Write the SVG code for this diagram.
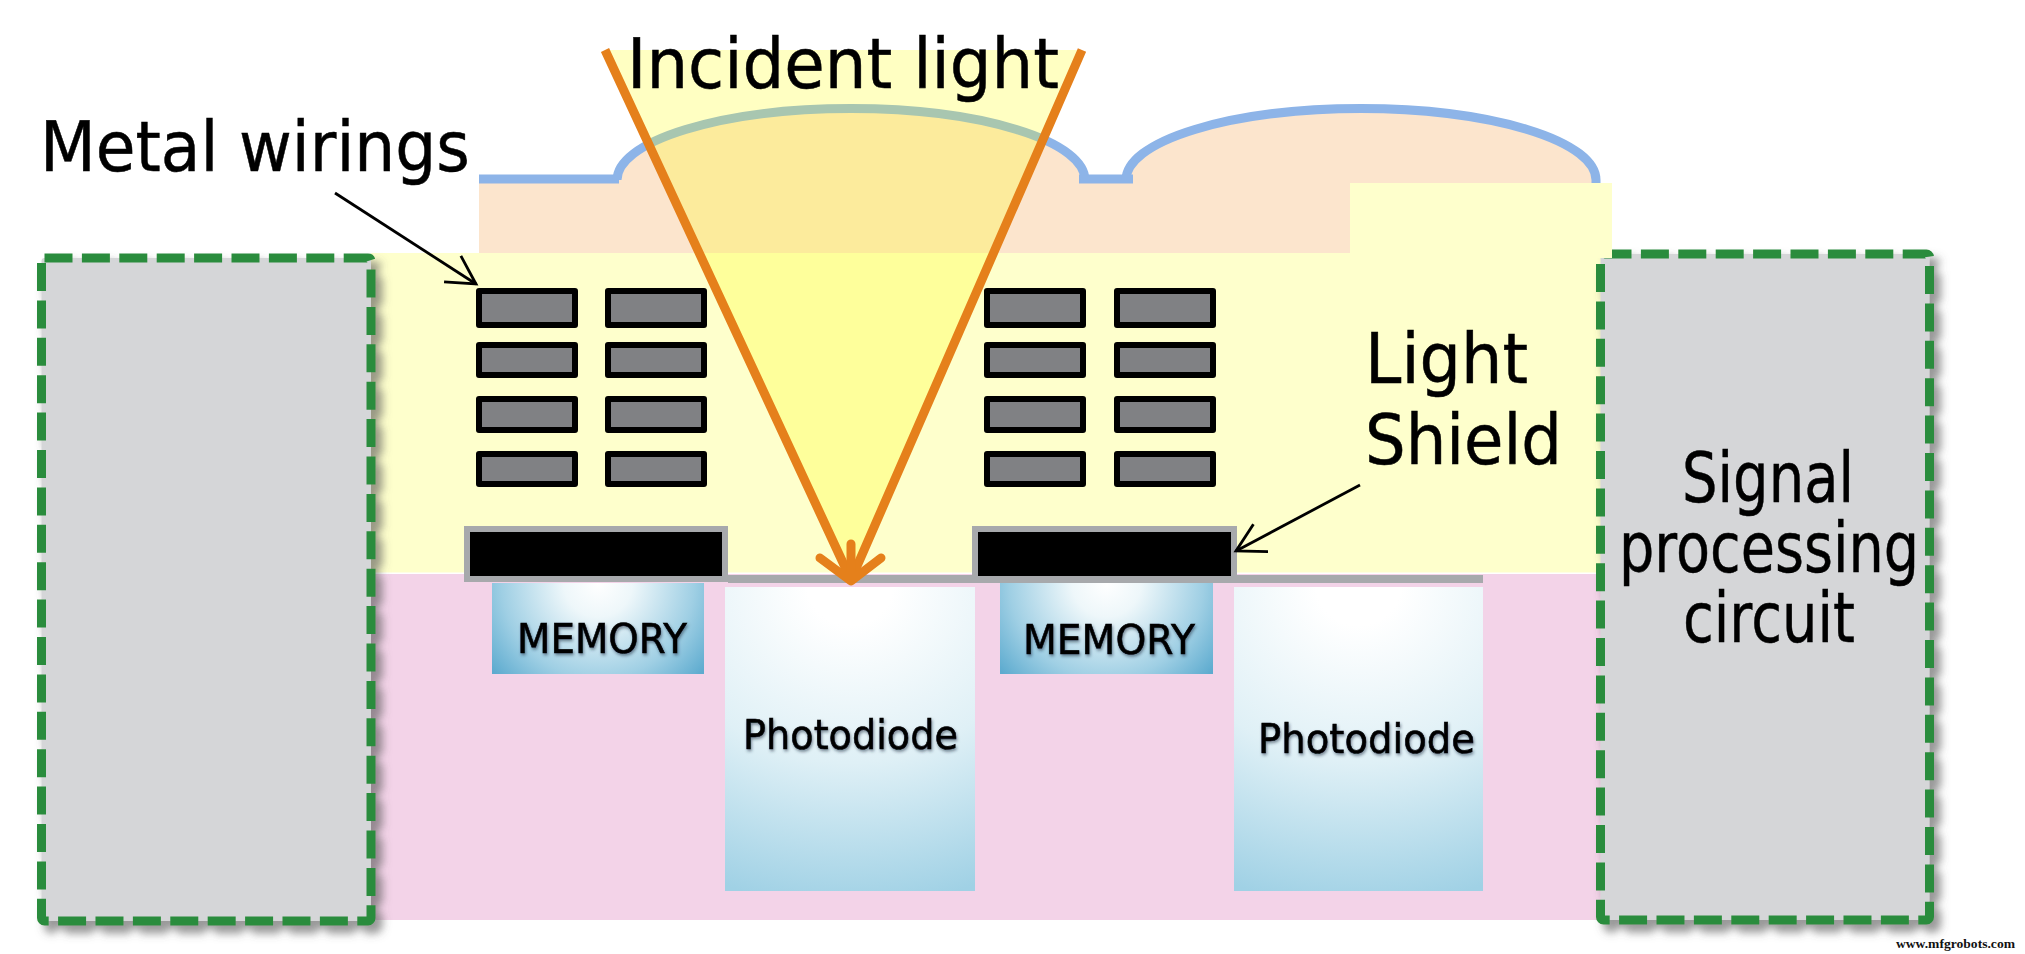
<svg xmlns="http://www.w3.org/2000/svg" width="2025" height="954" viewBox="0 0 2025 954">
<style>
.lbl{font-family:"DejaVu Sans","Liberation Sans",sans-serif;font-size:69px;fill:#000;stroke:#000;stroke-width:.5}
.sm{font-family:"DejaVu Sans","Liberation Sans",sans-serif;fill:#000;stroke:#000;stroke-width:.6;filter:url(#ts)}
.wire{fill:#808184;stroke:#000;stroke-width:6;stroke-linejoin:round}
.side{fill:#d5d6d8;stroke:#2c8c3c;stroke-width:9;stroke-dasharray:28 9.4;filter:url(#ds)}
.lens{fill:none;stroke:#8db4e8;stroke-width:9}
.ray{stroke:#e5801b;stroke-width:9;fill:none}
.lead{stroke:#000;stroke-width:2.8;fill:none;marker-end:url(#open)}
</style>
<defs>
<filter id="ds" x="-10%" y="-10%" width="125%" height="125%"><feDropShadow dx="7" dy="8" stdDeviation="4" flood-color="#555" flood-opacity=".6"/></filter>
<filter id="ts" x="-10%" y="-20%" width="120%" height="150%"><feDropShadow dx="1" dy="2" stdDeviation="1.5" flood-color="#234" flood-opacity=".55"/></filter>
<radialGradient id="mem" cx=".5" cy="0" r="1" gradientTransform="translate(.5 0) scale(.65 1.5) translate(-.5 0)"><stop offset="0" stop-color="#fff"/><stop offset=".25" stop-color="#eef7fa"/><stop offset=".7" stop-color="#9fcfe4"/><stop offset="1" stop-color="#5dabcf"/></radialGradient>
<radialGradient id="pd" cx=".5" cy="0" r="1" gradientTransform="translate(.5 0) scale(1.4 1.05) translate(-.5 0)"><stop offset="0" stop-color="#fff"/><stop offset=".12" stop-color="#fff"/><stop offset=".55" stop-color="#dff0f6"/><stop offset="1" stop-color="#a0d1e5"/></radialGradient>
<marker id="open" markerUnits="userSpaceOnUse" markerWidth="40" markerHeight="40" refX="35" refY="20" orient="auto" overflow="visible"><path d="M7 4.5L35 20L7 35.5" fill="none" stroke="#000" stroke-width="2.8"/></marker>
</defs>
<rect width="2025" height="954" fill="#fff"/>

<g id="silicon"><rect x="371" y="574" width="1235" height="346" fill="#f3d3e8"/></g>
<g id="dielectric"><rect x="371" y="253" width="1241" height="320" fill="#feffcc"/><rect x="371" y="572.5" width="1229" height="1.5" fill="#fff"/></g>
<g id="microlens">
<path d="M479 184V179H617A235 72 0 0 1 1087 179H1126A235 72 0 0 1 1596 179V253H479Z" fill="#fce5cd" stroke="none"/>
<path class="lens" d="M479 179H619M1079 179H1133"/>
<path class="lens" d="M617 180A234 71.5 0 0 1 1085 180M1126 180A235 71.5 0 0 1 1596 180V184"/>
</g>

<g id="left-block"><rect class="side" x="41.5" y="258" width="329.5" height="663" rx="3"/></g>
<g id="signal-processing-circuit"><rect class="side" x="1600.5" y="254" width="329" height="666" rx="3"/>
<text class="lbl" x="1768" y="502" text-anchor="middle" textLength="172" lengthAdjust="spacingAndGlyphs">Signal</text>
<text class="lbl" x="1769" y="572" text-anchor="middle" textLength="300" lengthAdjust="spacingAndGlyphs">processing</text>
<text class="lbl" x="1769" y="642" text-anchor="middle" textLength="172" lengthAdjust="spacingAndGlyphs">circuit</text></g>
<rect x="1350" y="183" width="262" height="75" fill="#feffcc"/>

<g id="metal-wirings">
<rect class="wire" x="479" y="291" width="96" height="34"/><rect class="wire" x="608" y="291" width="96" height="34"/><rect class="wire" x="987" y="291" width="96" height="34"/><rect class="wire" x="1117" y="291" width="96" height="34"/>
<rect class="wire" x="479" y="345" width="96" height="30"/><rect class="wire" x="608" y="345" width="96" height="30"/><rect class="wire" x="987" y="345" width="96" height="30"/><rect class="wire" x="1117" y="345" width="96" height="30"/>
<rect class="wire" x="479" y="399" width="96" height="31"/><rect class="wire" x="608" y="399" width="96" height="31"/><rect class="wire" x="987" y="399" width="96" height="31"/><rect class="wire" x="1117" y="399" width="96" height="31"/>
<rect class="wire" x="479" y="454" width="96" height="30"/><rect class="wire" x="608" y="454" width="96" height="30"/><rect class="wire" x="987" y="454" width="96" height="30"/><rect class="wire" x="1117" y="454" width="96" height="30"/>
</g>

<g id="memory-1"><rect x="492" y="583" width="212" height="91" fill="url(#mem)"/><text class="sm" x="517" y="653" font-size="40" textLength="170" lengthAdjust="spacingAndGlyphs">MEMORY</text></g>
<g id="memory-2"><rect x="1000" y="583" width="213" height="91" fill="url(#mem)"/><text class="sm" x="1023" y="654" font-size="40" textLength="172" lengthAdjust="spacingAndGlyphs">MEMORY</text></g>
<g id="photodiode-1"><rect x="725" y="587" width="250" height="304" fill="url(#pd)"/><text class="sm" x="743" y="749" font-size="41" textLength="215" lengthAdjust="spacingAndGlyphs">Photodiode</text></g>
<g id="photodiode-2"><rect x="1234" y="587" width="249" height="304" fill="url(#pd)"/><text class="sm" x="1258" y="753" font-size="41" textLength="217" lengthAdjust="spacingAndGlyphs">Photodiode</text></g>

<g id="light-shield">
<rect x="728" y="575" width="755" height="8" fill="#a7a9ac"/>
<rect x="467" y="529" width="258" height="50" fill="#000" stroke="#a7a9ac" stroke-width="6"/>
<rect x="975" y="529" width="259" height="50" fill="#000" stroke="#a7a9ac" stroke-width="6"/>
</g>

<g id="connectors">
<polygon points="605,50 1082,50 851,582" fill="#ffff00" fill-opacity=".24"/>
<path class="ray" d="M605 50L851 580M1082 50L851 580"/>
<path class="ray" stroke-linecap="round" stroke-linejoin="round" stroke-width="10" d="M851 544V578M820 558L851 581L881 558"/>
<path class="lead" d="M335 193L476 284"/>
<path class="lead" d="M1360 485L1236 551"/>
</g>

<g id="labels">
<text class="lbl" x="627" y="88" textLength="432" lengthAdjust="spacingAndGlyphs">Incident light</text>
<text class="lbl" x="40" y="171" textLength="430" lengthAdjust="spacingAndGlyphs">Metal wirings</text>
<text class="lbl" x="1365" y="383" textLength="163" lengthAdjust="spacingAndGlyphs">Light</text>
<text class="lbl" x="1365" y="464" textLength="197" lengthAdjust="spacingAndGlyphs">Shield</text>
<text x="1896" y="948" font-family="Liberation Serif,serif" font-size="13" font-weight="bold" fill="#111" textLength="119" lengthAdjust="spacingAndGlyphs">www.mfgrobots.com</text>
</g>
</svg>
